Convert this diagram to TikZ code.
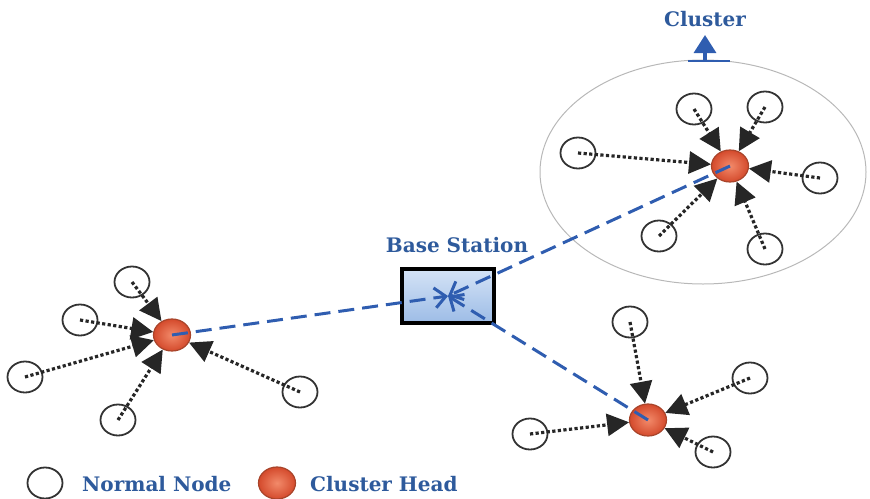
\documentclass[tikz,border=0pt]{standalone}
\usepackage{fontspec}
\setmainfont{DejaVu Serif}
\usetikzlibrary{arrows.meta,shapes.geometric}
\definecolor{txtblue}{HTML}{2E5A9C}
\definecolor{linkblue}{HTML}{2F5DB0}
\definecolor{chborder}{HTML}{A8442A}
\definecolor{chin}{HTML}{F28A6A}
\definecolor{chout}{HTML}{D44A2C}
\definecolor{bstop}{HTML}{D4E3F6}
\definecolor{bsbot}{HTML}{9DBCE6}
\begin{document}
\begin{tikzpicture}[x=1pt,y=-1pt,
  nnode/.style={ellipse, draw=black!80, line width=1.8pt, minimum width=35pt, minimum height=31pt, inner sep=0pt},
  chead/.style={ellipse, draw=chborder, line width=1.2pt, inner color=chin, outer color=chout, minimum width=37pt, minimum height=32pt, inner sep=0pt},
  dotlink/.style={black!85, line width=3.2pt, dash pattern=on 3.2pt off 2.4pt, -{Triangle[length=22pt,width=22pt]}},
  dashlink/.style={draw=linkblue, line width=3pt, dash pattern=on 16pt off 8pt, -{Straight Barb[length=11pt,width=20pt]}},
  lbl/.style={font=\bfseries\fontsize{20}{24}\selectfont, text=txtblue, inner sep=0pt},
  ringstyle/.style={ellipse, draw=black!28, line width=1pt, minimum width=326pt, minimum height=224pt, inner sep=0pt},
  bsbox/.style={draw=black, line width=4pt, top color=bstop, bottom color=bsbot, minimum width=92pt, minimum height=54pt, inner sep=0pt}
]
\useasboundingbox (0,0) rectangle (870,498);

% cluster ring and label
\node[ringstyle] (ring) at (703,172) {};
\node[lbl] (clusterlbl) at (705,19) {Cluster};
\coordinate (cl0) at (688,61);
\coordinate (cl1) at (730,61);
\coordinate (clm) at (705,61);
\coordinate (cltop) at (705,35);
\draw[linkblue, line width=1.3pt] (cl0) -- (cl1);
\draw[linkblue, line width=3.2pt, -{Triangle[length=18pt,width=22pt]}] (clm) -- (cltop);

% base station
\node[bsbox] (bs) at (448,296) {};
\coordinate (bsc) at (448,296);
\node[lbl] (bslbl) at (457,245) {Base Station};

% cluster heads
\node[chead] (ch1) at (730,166) {};
\node[chead] (ch2) at (172,335) {};
\node[chead] (ch3) at (648,420) {};

% dashed links to base station
\draw[dashlink] (ch2.center) -- (bsc);
\draw[dashlink] (ch1.center) -- (bsc);
\draw[dashlink] (ch3.center) -- (bsc);

% top-right cluster
\node[nnode] (a1) at (694,109) {};
\node[nnode] (a2) at (765,107) {};
\node[nnode] (a3) at (578,153) {};
\node[nnode] (a4) at (820,178) {};
\node[nnode] (a5) at (659,236) {};
\node[nnode] (a6) at (765,249) {};
\foreach \n in {a1,a2,a3,a4,a5,a6} \draw[dotlink] (\n.center) -- (ch1);

% left cluster
\node[nnode] (b1) at (132,282) {};
\node[nnode] (b2) at (80,320) {};
\node[nnode] (b3) at (25,377) {};
\node[nnode] (b4) at (118,420) {};
\node[nnode] (b5) at (300,392) {};
\foreach \n in {b1,b2,b3,b4,b5} \draw[dotlink] (\n.center) -- (ch2);

% bottom-right cluster
\node[nnode] (c1) at (630,322) {};
\node[nnode] (c2) at (750,378) {};
\node[nnode] (c3) at (713,452) {};
\node[nnode] (c4) at (530,434) {};
\foreach \n in {c1,c2,c3,c4} \draw[dotlink] (\n.center) -- (ch3);

% legend
\node[nnode] (lg1) at (45,483) {};
\node[lbl, anchor=west] (lg1t) at (82,484) {Normal Node};
\node[chead] (lg2) at (277,483) {};
\node[lbl, anchor=west] (lg2t) at (310,484) {Cluster Head};
\end{tikzpicture}
\end{document}
